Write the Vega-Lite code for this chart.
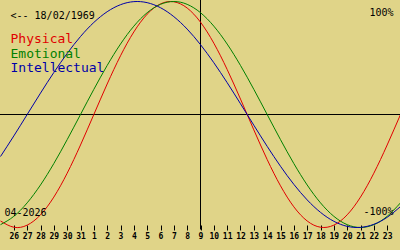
{
  "$schema": "https://vega.github.io/schema/vega-lite/v6.json",
  "width": 400,
  "height": 250,
  "autosize": {"type": "none"},
  "padding": 0,
  "background": "#e0d488",
  "config": {"view": {"stroke": null, "fill": "#e0d488"}},
  "datasets": {
    "curves": [
      {"date": "2026-03-25", "series": "Physical", "v": -0.9423},
      {"date": "2026-03-26", "series": "Physical", "v": -0.9977},
      {"date": "2026-03-27", "series": "Physical", "v": -0.9791},
      {"date": "2026-03-28", "series": "Physical", "v": -0.8879},
      {"date": "2026-03-29", "series": "Physical", "v": -0.7308},
      {"date": "2026-03-30", "series": "Physical", "v": -0.5196},
      {"date": "2026-03-31", "series": "Physical", "v": -0.2698},
      {"date": "2026-04-01", "series": "Physical", "v": 0},
      {"date": "2026-04-02", "series": "Physical", "v": 0.2698},
      {"date": "2026-04-03", "series": "Physical", "v": 0.5196},
      {"date": "2026-04-04", "series": "Physical", "v": 0.7308},
      {"date": "2026-04-05", "series": "Physical", "v": 0.8879},
      {"date": "2026-04-06", "series": "Physical", "v": 0.9791},
      {"date": "2026-04-07", "series": "Physical", "v": 0.9977},
      {"date": "2026-04-08", "series": "Physical", "v": 0.9423},
      {"date": "2026-04-09", "series": "Physical", "v": 0.8170},
      {"date": "2026-04-10", "series": "Physical", "v": 0.6311},
      {"date": "2026-04-11", "series": "Physical", "v": 0.3984},
      {"date": "2026-04-12", "series": "Physical", "v": 0.1362},
      {"date": "2026-04-13", "series": "Physical", "v": -0.1362},
      {"date": "2026-04-14", "series": "Physical", "v": -0.3984},
      {"date": "2026-04-15", "series": "Physical", "v": -0.6311},
      {"date": "2026-04-16", "series": "Physical", "v": -0.8170},
      {"date": "2026-04-17", "series": "Physical", "v": -0.9423},
      {"date": "2026-04-18", "series": "Physical", "v": -0.9977},
      {"date": "2026-04-19", "series": "Physical", "v": -0.9791},
      {"date": "2026-04-20", "series": "Physical", "v": -0.8879},
      {"date": "2026-04-21", "series": "Physical", "v": -0.7308},
      {"date": "2026-04-22", "series": "Physical", "v": -0.5196},
      {"date": "2026-04-23", "series": "Physical", "v": -0.2698},
      {"date": "2026-04-24", "series": "Physical", "v": 0},
      {"date": "2026-03-25", "series": "Emotional", "v": -0.9749},
      {"date": "2026-03-26", "series": "Emotional", "v": -0.9010},
      {"date": "2026-03-27", "series": "Emotional", "v": -0.7818},
      {"date": "2026-03-28", "series": "Emotional", "v": -0.6235},
      {"date": "2026-03-29", "series": "Emotional", "v": -0.4339},
      {"date": "2026-03-30", "series": "Emotional", "v": -0.2225},
      {"date": "2026-03-31", "series": "Emotional", "v": 0},
      {"date": "2026-04-01", "series": "Emotional", "v": 0.2225},
      {"date": "2026-04-02", "series": "Emotional", "v": 0.4339},
      {"date": "2026-04-03", "series": "Emotional", "v": 0.6235},
      {"date": "2026-04-04", "series": "Emotional", "v": 0.7818},
      {"date": "2026-04-05", "series": "Emotional", "v": 0.9010},
      {"date": "2026-04-06", "series": "Emotional", "v": 0.9749},
      {"date": "2026-04-07", "series": "Emotional", "v": 1},
      {"date": "2026-04-08", "series": "Emotional", "v": 0.9749},
      {"date": "2026-04-09", "series": "Emotional", "v": 0.9010},
      {"date": "2026-04-10", "series": "Emotional", "v": 0.7818},
      {"date": "2026-04-11", "series": "Emotional", "v": 0.6235},
      {"date": "2026-04-12", "series": "Emotional", "v": 0.4339},
      {"date": "2026-04-13", "series": "Emotional", "v": 0.2225},
      {"date": "2026-04-14", "series": "Emotional", "v": 0},
      {"date": "2026-04-15", "series": "Emotional", "v": -0.2225},
      {"date": "2026-04-16", "series": "Emotional", "v": -0.4339},
      {"date": "2026-04-17", "series": "Emotional", "v": -0.6235},
      {"date": "2026-04-18", "series": "Emotional", "v": -0.7818},
      {"date": "2026-04-19", "series": "Emotional", "v": -0.9010},
      {"date": "2026-04-20", "series": "Emotional", "v": -0.9749},
      {"date": "2026-04-21", "series": "Emotional", "v": -1},
      {"date": "2026-04-22", "series": "Emotional", "v": -0.9749},
      {"date": "2026-04-23", "series": "Emotional", "v": -0.9010},
      {"date": "2026-04-24", "series": "Emotional", "v": -0.7818},
      {"date": "2026-03-25", "series": "Intellectual", "v": -0.3717},
      {"date": "2026-03-26", "series": "Intellectual", "v": -0.1893},
      {"date": "2026-03-27", "series": "Intellectual", "v": 0},
      {"date": "2026-03-28", "series": "Intellectual", "v": 0.1893},
      {"date": "2026-03-29", "series": "Intellectual", "v": 0.3717},
      {"date": "2026-03-30", "series": "Intellectual", "v": 0.5406},
      {"date": "2026-03-31", "series": "Intellectual", "v": 0.6901},
      {"date": "2026-04-01", "series": "Intellectual", "v": 0.8146},
      {"date": "2026-04-02", "series": "Intellectual", "v": 0.9096},
      {"date": "2026-04-03", "series": "Intellectual", "v": 0.9718},
      {"date": "2026-04-04", "series": "Intellectual", "v": 0.9989},
      {"date": "2026-04-05", "series": "Intellectual", "v": 0.9898},
      {"date": "2026-04-06", "series": "Intellectual", "v": 0.9450},
      {"date": "2026-04-07", "series": "Intellectual", "v": 0.8660},
      {"date": "2026-04-08", "series": "Intellectual", "v": 0.7557},
      {"date": "2026-04-09", "series": "Intellectual", "v": 0.6182},
      {"date": "2026-04-10", "series": "Intellectual", "v": 0.4582},
      {"date": "2026-04-11", "series": "Intellectual", "v": 0.2817},
      {"date": "2026-04-12", "series": "Intellectual", "v": 0.0951},
      {"date": "2026-04-13", "series": "Intellectual", "v": -0.0951},
      {"date": "2026-04-14", "series": "Intellectual", "v": -0.2817},
      {"date": "2026-04-15", "series": "Intellectual", "v": -0.4582},
      {"date": "2026-04-16", "series": "Intellectual", "v": -0.6182},
      {"date": "2026-04-17", "series": "Intellectual", "v": -0.7557},
      {"date": "2026-04-18", "series": "Intellectual", "v": -0.8660},
      {"date": "2026-04-19", "series": "Intellectual", "v": -0.9450},
      {"date": "2026-04-20", "series": "Intellectual", "v": -0.9898},
      {"date": "2026-04-21", "series": "Intellectual", "v": -0.9989},
      {"date": "2026-04-22", "series": "Intellectual", "v": -0.9718},
      {"date": "2026-04-23", "series": "Intellectual", "v": -0.9096},
      {"date": "2026-04-24", "series": "Intellectual", "v": -0.8146}
    ],
    "names": [
      {"date": "2026-03-25T18:00:00Z", "v": 0.637, "series": "Physical", "label": "Physical"},
      {"date": "2026-03-25T18:00:00Z", "v": 0.504, "series": "Emotional", "label": "Emotional"},
      {"date": "2026-03-25T18:00:00Z", "v": 0.372, "series": "Intellectual", "label": "Intellectual"}
    ],
    "notes": [
      {"date": "2026-03-25T18:00:00Z", "v": 0.841, "label": "<-- 18/02/1969"},
      {"date": "2026-03-25T07:12:00Z", "v": -0.894, "label": "04-2026"}
    ],
    "rnotes": [
      {"date": "2026-04-23T11:24:00Z", "v": 0.876, "label": "100%"},
      {"date": "2026-04-23T11:24:00Z", "v": -0.885, "label": "-100%"}
    ],
    "today": [
      {"date": "2026-04-09", "v": 1.0177, "v2": -1.0177}
    ],
    "zero": [
      {"date": "2026-03-24", "date2": "2026-04-25", "v": 0}
    ]
  },
  "encoding": {
    "x": {
      "field": "date", "type": "temporal",
      "scale": {"type": "utc", "domain": ["2026-03-24T23:06:00Z", "2026-04-23T23:06:00Z"], "nice": false},
      "axis": {
        "title": null,
        "orient": "bottom",
        "offset": -25,
        "domain": false,
        "grid": false,
        "ticks": true,
        "tickSize": 5,
        "tickColor": "#000000",
        "tickWidth": 1,
        "labelFont": "DejaVu Sans Mono",
        "labelFontSize": 8,
        "labelFontWeight": "bold",
        "labelColor": "#000000",
        "labelPadding": 2,
        "labelOverlap": false,
        "labelFlush": false,
        "format": "%-d",
        "values": [
          {"year": 2026, "month": 3, "date": 26, "utc": true},
          {"year": 2026, "month": 3, "date": 27, "utc": true},
          {"year": 2026, "month": 3, "date": 28, "utc": true},
          {"year": 2026, "month": 3, "date": 29, "utc": true},
          {"year": 2026, "month": 3, "date": 30, "utc": true},
          {"year": 2026, "month": 3, "date": 31, "utc": true},
          {"year": 2026, "month": 4, "date": 1, "utc": true},
          {"year": 2026, "month": 4, "date": 2, "utc": true},
          {"year": 2026, "month": 4, "date": 3, "utc": true},
          {"year": 2026, "month": 4, "date": 4, "utc": true},
          {"year": 2026, "month": 4, "date": 5, "utc": true},
          {"year": 2026, "month": 4, "date": 6, "utc": true},
          {"year": 2026, "month": 4, "date": 7, "utc": true},
          {"year": 2026, "month": 4, "date": 8, "utc": true},
          {"year": 2026, "month": 4, "date": 9, "utc": true},
          {"year": 2026, "month": 4, "date": 10, "utc": true},
          {"year": 2026, "month": 4, "date": 11, "utc": true},
          {"year": 2026, "month": 4, "date": 12, "utc": true},
          {"year": 2026, "month": 4, "date": 13, "utc": true},
          {"year": 2026, "month": 4, "date": 14, "utc": true},
          {"year": 2026, "month": 4, "date": 15, "utc": true},
          {"year": 2026, "month": 4, "date": 16, "utc": true},
          {"year": 2026, "month": 4, "date": 17, "utc": true},
          {"year": 2026, "month": 4, "date": 18, "utc": true},
          {"year": 2026, "month": 4, "date": 19, "utc": true},
          {"year": 2026, "month": 4, "date": 20, "utc": true},
          {"year": 2026, "month": 4, "date": 21, "utc": true},
          {"year": 2026, "month": 4, "date": 22, "utc": true},
          {"year": 2026, "month": 4, "date": 23, "utc": true}
        ]
      }
    },
    "y": {"field": "v", "type": "quantitative", "scale": {"domain": [-1.1991, 1.0133], "nice": false, "zero": false}, "axis": null}
  },
  "layer": [
    {
      "data": {"name": "zero"},
      "mark": {"type": "rule", "color": "#000000", "strokeWidth": 1, "clip": true},
      "encoding": {
        "x2": {"field": "date2"}
      }
    },
    {
      "data": {"name": "today"},
      "mark": {"type": "rule", "color": "#000000", "strokeWidth": 1},
      "encoding": {
        "y2": {"field": "v2"}
      }
    },
    {
      "data": {"name": "curves"},
      "mark": {"type": "line", "strokeWidth": 1, "interpolate": "natural", "clip": true},
      "encoding": {
        "color": {
          "field": "series", "type": "nominal",
          "scale": {"domain": ["Physical", "Emotional", "Intellectual"], "range": ["#e00000", "#008000", "#0000a8"]},
          "legend": null
        }
      }
    },
    {
      "data": {"name": "names"},
      "mark": {"type": "text", "align": "left", "baseline": "alphabetic", "font": "DejaVu Sans Mono", "fontSize": 13},
      "encoding": {
        "text": {"field": "label"},
        "color": {
          "field": "series", "type": "nominal",
          "scale": {"domain": ["Physical", "Emotional", "Intellectual"], "range": ["#e00000", "#008000", "#0000a8"]},
          "legend": null
        }
      }
    },
    {
      "data": {"name": "notes"},
      "mark": {"type": "text", "align": "left", "baseline": "alphabetic", "font": "DejaVu Sans Mono", "fontSize": 10, "color": "#000000"},
      "encoding": {
        "text": {"field": "label"}
      }
    },
    {
      "data": {"name": "rnotes"},
      "mark": {"type": "text", "align": "right", "baseline": "alphabetic", "font": "DejaVu Sans Mono", "fontSize": 10, "color": "#000000"},
      "encoding": {
        "text": {"field": "label"}
      }
    }
  ]
}
